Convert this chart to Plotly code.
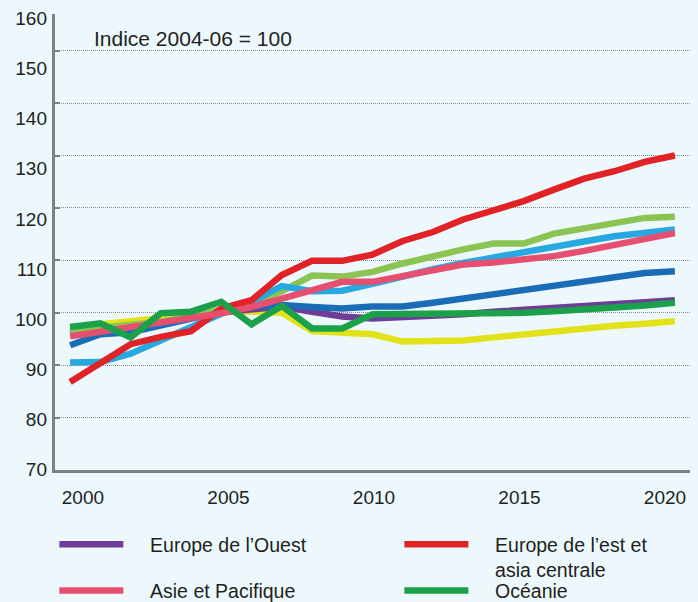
import plotly.graph_objects as go

years = list(range(2000, 2021))

europe_ouest = [96.0, 97.0, 97.3, 98.0, 99.0, 100.1, 100.6, 101.2, 100.2, 99.3, 98.9, 99.1, 99.4, 99.7, 100.2, 100.5, 100.8, 101.3, 101.7, 102.0, 102.4]
europe_est = [86.8, 90.3, 94.0, 95.4, 96.5, 100.8, 102.4, 107.2, 109.9, 109.9, 111.1, 113.7, 115.4, 117.8, 119.6, 121.3, 123.5, 125.6, 127.0, 128.8, 130.0]
asie_pacifique = [95.5, 96.4, 97.0, 98.0, 98.9, 99.9, 101.1, 102.6, 104.3, 105.9, 105.9, 107.0, 108.1, 109.2, 109.6, 110.1, 110.8, 111.8, 113.0, 114.2, 115.2]
oceanie = [97.3, 98.0, 95.3, 99.9, 100.2, 102.1, 97.8, 101.3, 97.0, 97.0, 99.7, 99.7, 99.7, 99.8, 99.9, 100.0, 100.3, 100.5, 101.0, 101.4, 101.9]
vert_clair = [96.5, 97.0, 97.5, 98.3, 99.3, 100.5, 101.9, 104.1, 107.1, 106.9, 107.8, 109.4, 110.9, 112.1, 113.2, 113.2, 115.1, 116.2, 117.2, 118.1, 118.3]
bleu_clair = [90.5, 90.6, 92.2, 94.8, 97.4, 99.8, 102.1, 105.1, 104.1, 104.2, 105.5, 107.0, 108.3, 109.5, 110.6, 111.6, 112.6, 113.6, 114.6, 115.3, 115.9]
bleu_fonce = [93.8, 95.9, 96.3, 97.7, 98.9, 100.2, 101.1, 101.5, 101.1, 100.8, 101.2, 101.2, 101.9, 102.7, 103.6, 104.4, 105.1, 106.0, 106.9, 107.6, 107.9]
jaune = [97.2, 97.8, 98.5, 98.9, 99.6, 100.2, 100.2, 100.0, 96.5, 96.3, 95.9, 94.5, 94.5, 94.7, 95.3, 95.9, 96.5, 96.8, 97.5, 97.9, 98.4]

x_labels = [2000, 2005, 2010, 2015, 2020]
y_grid = [70, 80, 90, 100, 110, 120, 130, 140, 150]
y_labels = [70, 80, 90, 100, 110, 120, 130, 140, 150, 160]

FONT = "Liberation Sans, Arial, sans-serif"
TXT = "#231F20"
BG = "#EDF8FC"
AX = "#7E8284"
PAD = "\u00a0\u00a0\u00a0\u00a0"

# (name, values, colour, legend id or None, legend rank) - drawing order bottom to top
series = [
    ("Afrique du Nord et Proche-Orient", jaune, "#E2E21B", None, 8),
    (PAD + "Europe de l’Ouest", europe_ouest, "#6F3D97", "legend", 1),
    ("Amérique du Nord", bleu_fonce, "#1A6CB6", None, 7),
    ("Amérique latine et Caraïbes", vert_clair, "#8BC453", None, 6),
    ("Afrique subsaharienne", bleu_clair, "#27A8E1", None, 5),
    (PAD + "Europe de l’est et<br>" + PAD + "asia centrale", europe_est, "#E12227", "legend", 2),
    (PAD + "Asie et Pacifique", asie_pacifique, "#E64F70", "legend2", 3),
    (PAD + "Océanie", oceanie, "#1CA14B", "legend2", 4),
]

fig = go.Figure()
for name, vals, col, leg, rank in series:
    fig.add_trace(go.Scatter(
        x=years, y=vals, name=name, mode="lines",
        line=dict(color=col, width=6.5),
        showlegend=leg is not None, legend=leg or "legend", legendrank=rank,
    ))

# invisible trace anchoring the label axes
fig.add_trace(go.Scatter(x=[None], y=[None], xaxis="x2", yaxis="y2",
                         showlegend=False, hoverinfo="skip"))

legend_style = dict(
    orientation="h", x=-0.001, xanchor="left", yanchor="top",
    entrywidth=266, entrywidthmode="pixels", valign="top",
    itemwidth=64, traceorder="normal",
    font=dict(size=19.5, color=TXT), bgcolor="rgba(0,0,0,0)",
)

fig.update_layout(
    width=698, height=602,
    margin=dict(l=55, r=8, t=14, b=132, autoexpand=False),
    paper_bgcolor=BG, plot_bgcolor=BG,
    font=dict(family=FONT, size=19, color=TXT),
    xaxis=dict(
        range=[1999.5, 2020.5], showticklabels=False, ticks="",
        showgrid=False, zeroline=False,
        showline=True, linecolor=AX, linewidth=3,
    ),
    xaxis2=dict(
        overlaying="x", side="bottom", anchor="y",
        range=[1999.04, 2020.86], tickvals=x_labels, ticks="",
        showgrid=False, zeroline=False, showline=False,
        ticklabelstandoff=14,
        tickfont=dict(size=19, color=TXT),
    ),
    yaxis=dict(
        range=[70, 157.0], tickvals=y_grid, showticklabels=False,
        ticks="inside", ticklen=5, tickwidth=2, tickcolor=AX,
        showgrid=True, gridcolor="#8C8C8C", gridwidth=1, griddash="1px,1px",
        zeroline=False, showline=True, linecolor=AX, linewidth=3,
    ),
    yaxis2=dict(
        overlaying="y", side="left", anchor="x",
        range=[69.86, 160.9], tickvals=y_labels, ticks="",
        showgrid=False, zeroline=False, showline=False,
        ticklabelstandoff=7,
        tickfont=dict(size=19, color=TXT),
    ),
    legend=dict(legend_style, y=-0.121),
    legend2=dict(legend_style, y=-0.222),
    annotations=[dict(
        text="Indice 2004-06 = 100", xref="paper", yref="paper",
        x=0.058, y=0.947, xanchor="left", yanchor="middle",
        showarrow=False, font=dict(size=21, color=TXT),
    )],
)

fig.write_html("out.html", config={"displayModeBar": False},
               post_script="document.body.style.margin='0';")
